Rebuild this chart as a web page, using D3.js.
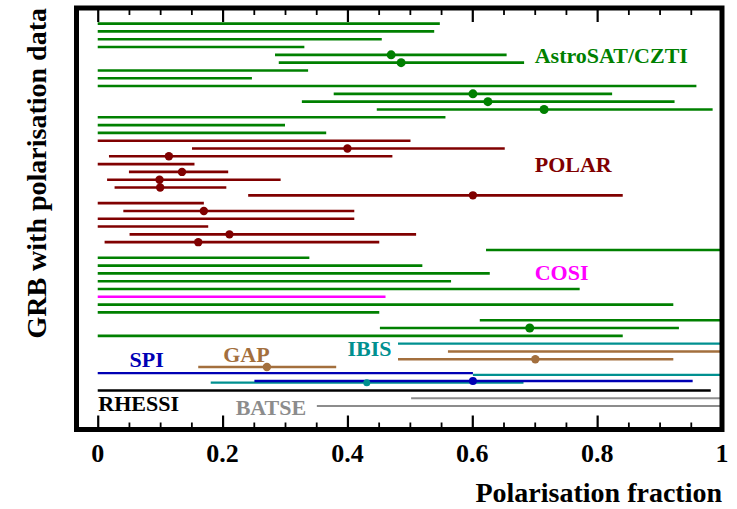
<!DOCTYPE html>
<html>
<head>
<meta charset="utf-8">
<script src="https://cdn.jsdelivr.net/npm/d3@7"></script>
<style>
  body { margin: 0; background: #fff; }
  svg text { font-family: "Liberation Serif", "Times New Roman", serif; font-weight: bold; }
</style>
</head>
<body>
<svg id="chart" width="737" height="509"></svg>
<script>
// [row, lower, upper, measured value or null]
const czti = [
  [1, 0, 0.548, null], [2, 0, 0.539, null], [3, 0, 0.455, null], [4, 0, 0.331, null],
  [5, 0.284, 0.655, 0.47], [6, 0.29, 0.683, 0.486], [7, 0, 0.337, null], [8, 0, 0.247, null],
  [9, 0, 0.959, null], [10, 0.378, 0.824, 0.601], [11, 0.327, 0.924, 0.625],
  [12, 0.447, 0.985, 0.715], [13, 0, 0.557, null], [14, 0, 0.3, null], [15, 0, 0.366, null],
  [30, 0.622, 1, null], [31, 0, 0.339, null], [32, 0, 0.52, null], [33, 0, 0.628, null],
  [34, 0, 0.566, null], [35, 0, 0.772, null], [37, 0, 0.922, null], [38, 0, 0.451, null],
  [39, 0.612, 1, null], [40, 0.452, 0.931, 0.692], [41, 0, 0.841, null],
];
const polar = [
  [16, 0, 0.501, null], [17, 0.151, 0.652, 0.4], [18, 0.018, 0.472, 0.114],
  [19, 0, 0.155, null], [20, 0.05, 0.209, 0.135], [21, 0.015, 0.293, 0.099],
  [22, 0.027, 0.206, 0.1], [23, 0.241, 0.841, 0.601], [24, 0, 0.17, null],
  [25, 0.041, 0.411, 0.17], [26, 0, 0.411, null], [27, 0, 0.177, null],
  [28, 0.051, 0.51, 0.211], [29, 0.011, 0.451, 0.161],
];
const cosi = [[36, 0, 0.461, null]];
const ibis = [[42, 0.481, 1, null], [46, 0.601, 1, null], [47, 0.181, 0.682, 0.431]];
const gap = [[43, 0.561, 1, null], [44, 0.481, 0.922, 0.701], [45, 0.161, 0.382, 0.271]];
const spi = [[45.78, 0, 0.601, null], [46.78, 0.251, 0.953, 0.601]];
const rhessi = [[48, 0, 0.982, null]];
const batse = [[49, 0.502, 1, null], [50, 0.351, 1, null]];

const instruments = [
  { name: "AstroSAT/CZTI", data: czti, color: "#008000", width: 2.6, r: 4.5, label: [0.7, 6.05] },
  { name: "POLAR", data: polar, color: "#800000", width: 2.6, r: 4.2, label: [0.7, 20] },
  { name: "COSI", data: cosi, color: "#ff00ff", width: 2.6, r: 4, label: [0.7, 33.85] },
  { name: "IBIS", data: ibis, color: "#009090", width: 2.2, r: 3.5, label: [0.4, 43.6] },
  { name: "GAP", data: gap, color: "#a36f3d", width: 2.6, r: 4.2, label: [0.201, 44.3] },
  { name: "SPI", data: spi, color: "#0000b4", width: 2.4, r: 4, label: [0.051, 44.95] },
  { name: "RHESSI", data: rhessi, color: "#000000", width: 2.4, r: 4, label: [0.001, 50.6] },
  { name: "BATSE", data: batse, color: "#8c8c8c", width: 2, r: 4, label: [0.221, 51.1] },
];

const majorTicks = [0, 0.2, 0.4, 0.6, 0.8, 1];
const minorTicks = d3.range(1, 20).map((i) => i / 20).filter((v) => Math.round(v * 100) % 20 !== 0);
const tickLabels = ["0", "0.2", "0.4", "0.6", "0.8", "1"];

const plot = { left: 76.5, right: 722, top: 8, bottom: 429.5 };

function createScales() {
  const xScale = d3.scaleLinear().domain([-0.034, 1]).range([plot.left, plot.right]);
  const yScale = d3.scaleLinear().domain([-1, 53]).range([plot.top, plot.bottom]);
  return { xScale, yScale };
}

function drawChart(svg, xScale, yScale) {
  const h = plot.bottom - plot.top;

  // interval lines
  instruments.forEach((inst) => {
    svg
      .selectAll(null)
      .data(inst.data)
      .join("line")
      .attr("x1", (d) => xScale(d[1]))
      .attr("x2", (d) => xScale(d[2]))
      .attr("y1", (d) => yScale(d[0]))
      .attr("y2", (d) => yScale(d[0]))
      .attr("stroke", inst.color)
      .attr("stroke-width", inst.width);
  });

  // measured values
  instruments.forEach((inst) => {
    svg
      .selectAll(null)
      .data(inst.data.filter((d) => d[3] !== null))
      .join("circle")
      .attr("cx", (d) => xScale(d[3]))
      .attr("cy", (d) => yScale(d[0]))
      .attr("r", inst.r)
      .attr("fill", inst.color);
  });

  // instrument names
  svg
    .selectAll(".inst-label")
    .data(instruments)
    .join("text")
    .attr("class", "inst-label")
    .attr("x", (d) => xScale(d.label[0]))
    .attr("y", (d) => yScale(d.label[1]))
    .attr("fill", (d) => d.color)
    .style("font-size", "22px")
    .text((d) => d.name);

  // ticks on top and bottom, pointing inward
  const addTicks = (axisFn, y, inner) => {
    svg.append("g")
      .attr("transform", `translate(0,${y})`)
      .call(axisFn(xScale).tickValues(majorTicks).tickSize(inner ? 14 : -14).tickFormat(""))
      .call((g) => g.select(".domain").remove())
      .call((g) => g.selectAll("line").attr("stroke-width", 2.2));
    svg.append("g")
      .attr("transform", `translate(0,${y})`)
      .call(axisFn(xScale).tickValues(minorTicks).tickSize(inner ? 7 : -7).tickFormat(""))
      .call((g) => g.select(".domain").remove())
      .call((g) => g.selectAll("line").attr("stroke-width", 1.8));
  };
  addTicks(d3.axisTop, plot.top, false);
  addTicks(d3.axisBottom, plot.bottom, false);

  // tick labels
  svg
    .selectAll(".tick-label")
    .data(majorTicks)
    .join("text")
    .attr("class", "tick-label")
    .attr("x", (d) => xScale(d))
    .attr("y", 462)
    .attr("text-anchor", "middle")
    .style("font-size", "26px")
    .text((d, i) => tickLabels[i]);

  // frame
  svg.append("rect")
    .attr("x", plot.left)
    .attr("y", plot.top)
    .attr("width", plot.right - plot.left)
    .attr("height", h)
    .attr("fill", "none")
    .attr("stroke", "#000")
    .attr("stroke-width", 5);

  // axis titles
  svg.append("text")
    .attr("x", 722)
    .attr("y", 502)
    .attr("text-anchor", "end")
    .style("font-size", "28px")
    .text("Polarisation fraction");

  svg.append("text")
    .attr("transform", "rotate(-90)")
    .attr("x", -8)
    .attr("y", 46)
    .attr("text-anchor", "end")
    .style("font-size", "28px")
    .text("GRB with polarisation data");
}

const svg = d3.select("#chart");
const { xScale, yScale } = createScales();
drawChart(svg, xScale, yScale);
</script>
</body>
</html>
